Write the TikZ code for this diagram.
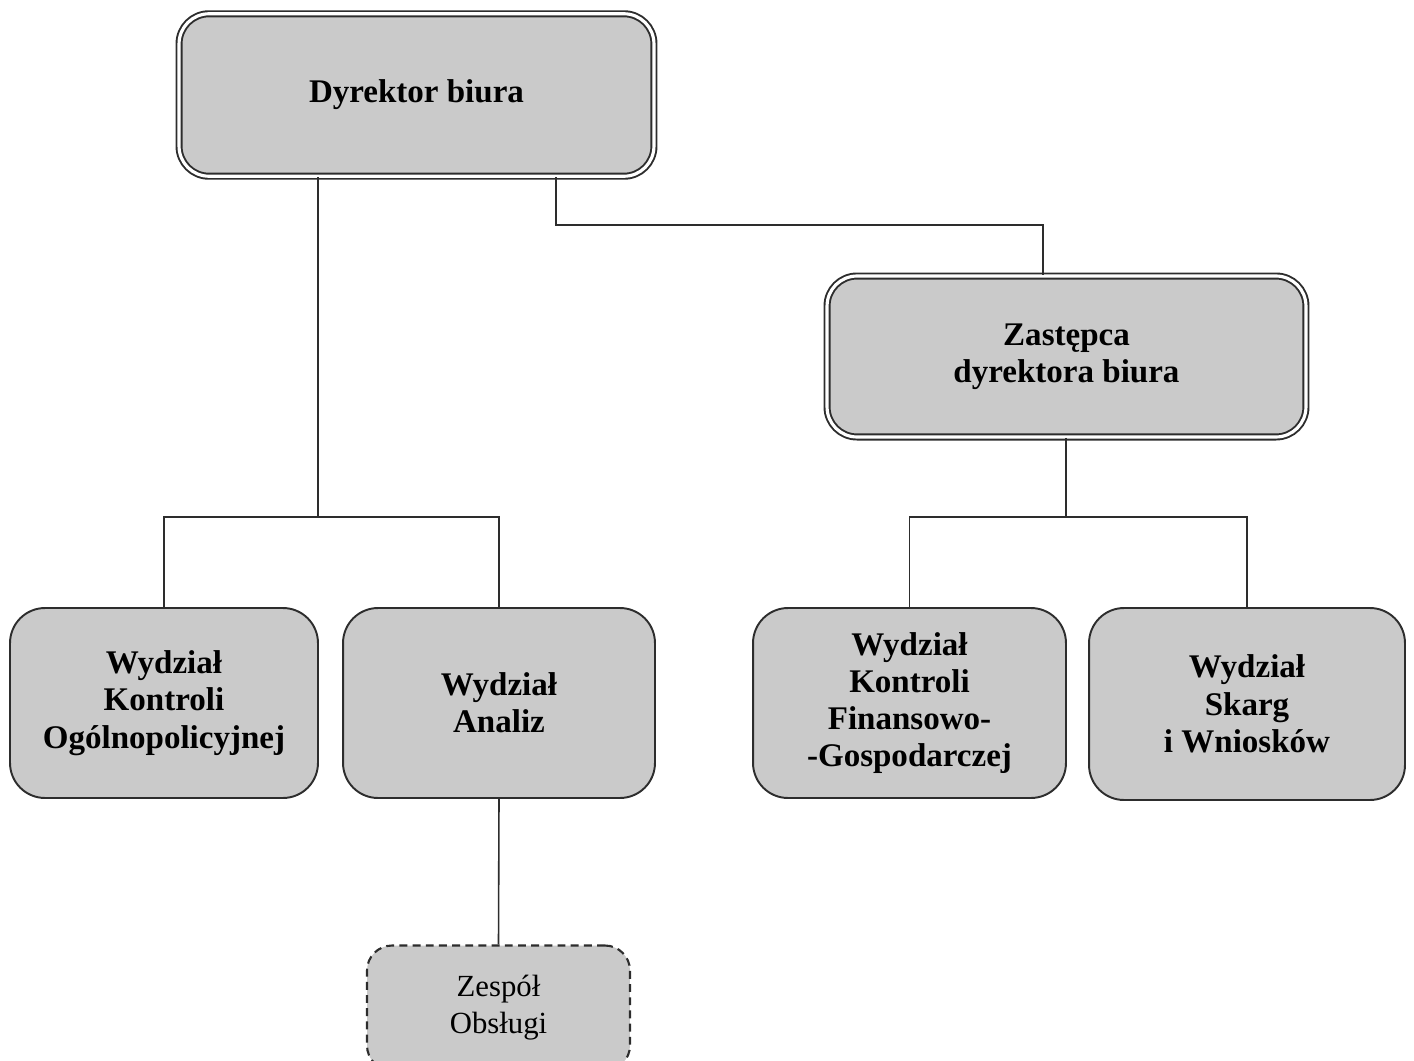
\documentclass[tikz,border=0pt]{standalone}
\usepackage{fontspec}
\setmainfont{Liberation Serif}
\usetikzlibrary{calc}
\definecolor{boxgray}{RGB}{202,202,202}
\definecolor{linegray}{RGB}{45,45,45}
\begin{document}
\begin{tikzpicture}[x=0.02cm,y=-0.02cm,
  base/.style={fill=boxgray, draw=linegray, line width=1.1pt, rounded corners=0.7cm,
    align=center, font=\fontsize{18.8}{21.2}\selectfont\bfseries, text=black},
  dbl/.style={base, double=white, double distance=1.8pt, line width=1.1pt, rounded corners=0.6cm},
  unitbox/.style={base, minimum height=3.8cm},
  team/.style={base, dash pattern=on 4.5pt off 3pt, line width=1.2pt, font=\fontsize{17.5}{21}\selectfont, rounded corners=0.5cm},
  conn/.style={draw=linegray, line width=0.9pt}]
\useasboundingbox (0,0) rectangle (1414,1061);
\node[dbl, minimum width=9.5cm, minimum height=3.25cm] (dir) at (416.5,95) {Dyrektor biura};
\node[dbl, minimum width=9.58cm, minimum height=3.22cm] (zast) at (1066.5,356.5) {Zastępca\\dyrektora biura};
\node[unitbox, minimum width=6.16cm] (wko) at (164,703) {Wydział\\Kontroli\\Ogólnopolicyjnej};
\node[unitbox, minimum width=6.24cm] (wa) at (499,703) {Wydział\\Analiz};
\node[unitbox, minimum width=6.26cm] (wkfg) at (909.5,703) {Wydział\\Kontroli\\Finansowo-\\-Gospodarczej};
\node[unitbox, minimum width=6.32cm, minimum height=3.84cm] (wsw) at (1247,704) {Wydział\\Skarg\\i Wniosków};
\node[team, minimum width=5.26cm, minimum height=2.5cm] (zesp) at (498.5,1008) {Zespół\\Obsługi};
\coordinate (j1) at (318,517);
\coordinate (j2) at (556,225);
\coordinate (j3) at (1043,225);
\coordinate (j4) at (1066,517);
\draw[conn] (dir.south -| j1) -- (j1);
\draw[conn] (wko.north) |- (j1) -| (wa.north);
\draw[conn] (dir.south -| j2) -- (j2) -- (j3) -- (j3 |- zast.north);
\draw[conn] (zast.south -| j4) -- (j4);
\draw[conn] (wkfg.north) |- (j4) -| (wsw.north);
\draw[conn] (wa.south) -- (zesp.north);
\end{tikzpicture}
\end{document}
